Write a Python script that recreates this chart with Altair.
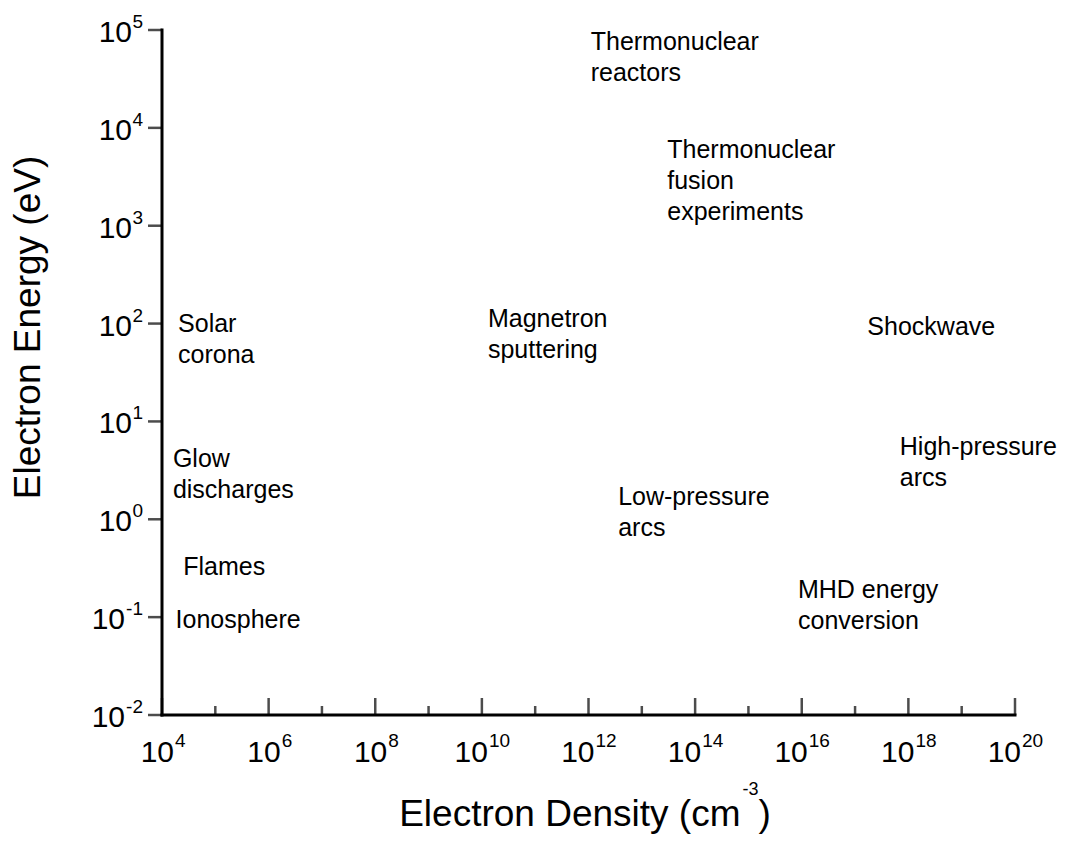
import altair as alt
import pandas as pd

FONT = "Liberation Sans"

# ---- data ----
x_major_exps = [4, 6, 8, 10, 12, 14, 16, 18, 20]
x_minor_exps = [5, 7, 9, 11, 13, 15, 17, 19]
x_label_exps_1 = [4, 6, 8]
x_label_exps_2 = [10, 12, 14, 16, 18, 20]
y_tick_exps = [-2, -1, 0, 1, 2, 3, 4, 5]
y_label_exps_pos = [0, 1, 2, 3, 4, 5]
y_label_exps_neg = [-2, -1]

region_names = [
    "Thermonuclear\nreactors",
    "Thermonuclear\nfusion\nexperiments",
    "Magnetron\nsputtering",
    "Solar\ncorona",
    "Glow\ndischarges",
    "Flames",
    "Ionosphere",
    "Shockwave",
    "High-pressure\narcs",
    "Low-pressure\narcs",
    "MHD energy\nconversion",
]
region_density = [1.1e12, 3.0e13, 1.3e10, 2.0e4, 1.6e4, 2.5e4, 1.8e4, 1.7e17, 6.9e17, 3.6e12, 8.5e15]
region_energy = [6.3e4, 4.9e3, 92, 82, 3.4, 0.27, 0.077, 76, 4.5, 1.4, 0.157]

x_title_main = "Electron Density (cm"
x_title_sup = "-3"
x_title_end = ")"
y_title = "Electron Energy (eV)"

# ---- scales ----
X_MIN, X_MAX = 1e4, 1e20
Y_MIN, Y_MAX = 1e-2, 1e5
X_MID = 1e12
Y_MID = 10 ** 1.5
xs = alt.Scale(type="log", domain=[X_MIN, X_MAX], nice=False)
ys = alt.Scale(type="log", domain=[Y_MIN, Y_MAX], nice=False)


def exp_df(exps):
    return pd.DataFrame({"v": [10.0 ** e for e in exps], "exp": [str(e) for e in exps]})


one = pd.DataFrame({"k": [0]})
xmin_d = alt.XDatum(X_MIN, type="quantitative", axis=None)
ymin_d = alt.YDatum(Y_MIN, type="quantitative", axis=None)

# ---- region labels (define the scales) ----
regions = pd.DataFrame({"name": region_names, "density": region_density, "energy": region_energy})
labels = alt.Chart(regions).mark_text(
    align="left", baseline="alphabetic", lineBreak="\n", lineHeight=31,
    fontSize=25, font=FONT, color="black"
).encode(
    x=alt.X("density:Q", scale=xs, axis=None),
    y=alt.Y("energy:Q", scale=ys, axis=None),
    text="name:N",
)

# ---- axis lines ----
x_line = alt.Chart(one).mark_rule(color="black", strokeWidth=3, strokeCap="square").encode(
    x=xmin_d, x2=alt.X2Datum(X_MAX), y=ymin_d)
y_line = alt.Chart(one).mark_rule(color="black", strokeWidth=3, strokeCap="square").encode(
    x=xmin_d, y=ymin_d, y2=alt.Y2Datum(Y_MAX))

# ---- x ticks (inward) ----
major_ticks = alt.Chart(exp_df(x_major_exps)).mark_tick(
    orient="vertical", size=17, thickness=2.5, yOffset=-8.5, color="black"
).encode(x=alt.X("v:Q", axis=None), y=ymin_d)
minor_ticks = alt.Chart(exp_df(x_minor_exps)).mark_tick(
    orient="vertical", size=9, thickness=2.5, yOffset=-4.5, color="black"
).encode(x=alt.X("v:Q", axis=None), y=ymin_d)

# ---- y ticks (outward) ----
y_ticks = alt.Chart(exp_df(y_tick_exps)).mark_tick(
    orient="horizontal", size=14, thickness=2.5, xOffset=-7, color="black"
).encode(x=xmin_d, y=alt.Y("v:Q", axis=None))


# ---- x tick labels ----
def x_labels(exps, dx_ten):
    base = alt.Chart(exp_df(exps)).encode(x=alt.X("v:Q", axis=None), y=ymin_d)
    ten = base.mark_text(text="10", align="right", baseline="alphabetic", dx=dx_ten, dy=47,
                         fontSize=30, font=FONT, color="black")
    sup = base.mark_text(align="left", baseline="alphabetic", dx=dx_ten + 1, dy=32,
                         fontSize=19, font=FONT, color="black").encode(text="exp:N")
    return ten + sup


x_lab1 = x_labels(x_label_exps_1, 12)
x_lab2 = x_labels(x_label_exps_2, 6)


# ---- y tick labels ----
def y_labels(exps, dx_ten):
    base = alt.Chart(exp_df(exps)).encode(x=xmin_d, y=alt.Y("v:Q", axis=None))
    ten = base.mark_text(text="10", align="right", baseline="alphabetic", dx=dx_ten, dy=12,
                         fontSize=30, font=FONT, color="black")
    sup = base.mark_text(align="right", baseline="alphabetic", dx=-19, dy=-2,
                         fontSize=19, font=FONT, color="black").encode(text="exp:N")
    return ten + sup


y_lab_pos = y_labels(y_label_exps_pos, -30)
y_lab_neg = y_labels(y_label_exps_neg, -37)

# ---- x axis title with superscript ----
tpos = dict(x=alt.XDatum(X_MID, type="quantitative", axis=None), y=ymin_d)
xt_main = alt.Chart(one).mark_text(text=x_title_main, align="right", baseline="alphabetic",
                                   dx=152, dy=111, fontSize=37, font=FONT, color="black").encode(**tpos)
xt_sup = alt.Chart(one).mark_text(text=x_title_sup, align="left", baseline="alphabetic",
                                  dx=154, dy=80, fontSize=18, font=FONT, color="black").encode(**tpos)
xt_end = alt.Chart(one).mark_text(text=x_title_end, align="left", baseline="alphabetic",
                                  dx=170, dy=111, fontSize=37, font=FONT, color="black").encode(**tpos)

# ---- y axis title (rotated; dx runs up the page, dy runs right) ----
yt = alt.Chart(one).mark_text(text=y_title, angle=270, align="center", baseline="alphabetic",
                              dx=45, dy=-122, fontSize=37, font=FONT, color="black").encode(
    x=xmin_d, y=alt.YDatum(Y_MID, type="quantitative", axis=None))

chart = alt.layer(
    labels, x_line, y_line, major_ticks, minor_ticks, y_ticks,
    x_lab1, x_lab2, y_lab_pos, y_lab_neg, xt_main, xt_sup, xt_end, yt
).properties(
    width=853, height=685,
    autosize=alt.AutoSizeParams(type="none"),
    padding={"left": 162, "top": 30, "right": 50, "bottom": 127},
    background="white",
).configure_view(strokeWidth=0)

chart.save("out.html", embed_options={"renderer": "svg", "actions": False})
